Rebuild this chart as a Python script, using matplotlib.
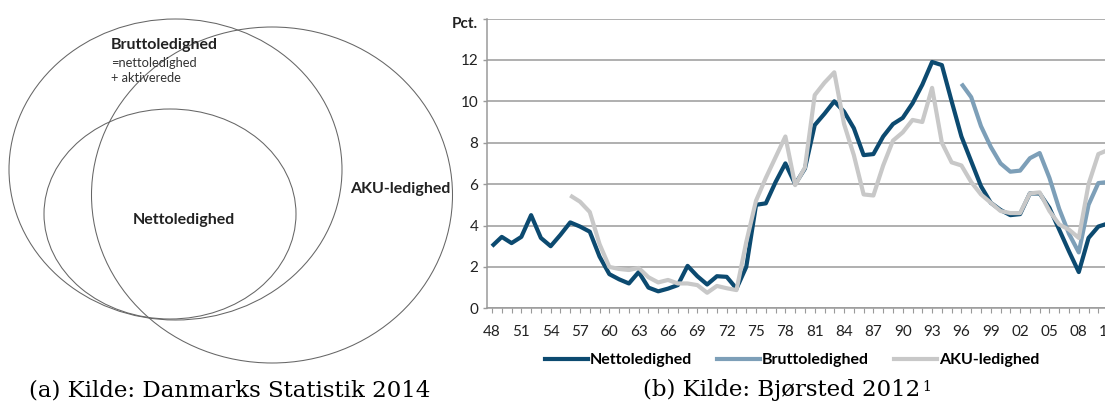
import numpy as np
import matplotlib
matplotlib.use('Agg')
import matplotlib.pyplot as plt
from matplotlib.patches import Ellipse
from matplotlib.lines import Line2D
from matplotlib.transforms import ScaledTranslation

# data (pct.)
years_netto = list(range(1948, 2012))
netto = [3.0, 3.45, 3.15, 3.45, 4.5, 3.4, 3.0, 3.55, 4.15, 3.95,
         3.7, 2.5, 1.65, 1.4, 1.2, 1.75, 1.0, 0.82, 0.95, 1.12,
         2.05, 1.55, 1.15, 1.55, 1.52, 0.95, 2.0, 5.0, 5.07, 6.1,
         7.0, 6.0, 6.75, 8.85, 9.4, 10.0, 9.5, 8.7, 7.4, 7.45,
         8.3, 8.9, 9.2, 9.9, 10.8, 11.9, 11.75, 10.0, 8.3, 7.1,
         5.9, 5.1, 4.75, 4.5, 4.55, 5.55, 5.55, 4.85, 3.8, 2.75,
         1.75, 3.4, 3.95, 4.1]

years_aku = list(range(1956, 2012))
aku = [5.45, 5.15, 4.65, 3.1, 2.0, 1.9, 1.85, 1.95, 1.5, 1.25,
       1.37, 1.2, 1.2, 1.12, 0.75, 1.08, 0.97, 0.88, 3.2, 5.2,
       6.3, 7.3, 8.3, 5.95, 6.8, 10.3, 10.9, 11.4, 8.9, 7.4,
       5.5, 5.45, 6.9, 8.1, 8.5, 9.1, 9.0, 10.65, 8.0, 7.05,
       6.9, 6.1, 5.5, 5.1, 4.7, 4.6, 4.6, 5.55, 5.6, 4.7,
       4.05, 3.8, 3.4, 6.0, 7.45, 7.65]

years_brutto = list(range(1996, 2012))
brutto = [10.85, 10.2, 8.8, 7.8, 7.0, 6.6, 6.65, 7.25, 7.5, 6.3,
          4.8, 3.6, 2.7, 5.0, 6.05, 6.1]

series_names = ['Nettoledighed', 'Bruttoledighed', 'AKU-ledighed']
series_colors = ['#0c4a70', '#7d9fb8', '#c8c8c8']
y_ticks = [0, 2, 4, 6, 8, 10, 12, 14]

SANS = ['Lato', 'DejaVu Sans']
SERIF = ['DejaVu Serif']
GRID = '#9a9a9a'

W, H = 1105, 408
fig = plt.figure(figsize=(W / 100, H / 100), dpi=100)

# --- (a) venn diagram, drawn in pixel coordinates ---
ax0 = fig.add_axes([0, 0, 1, 1])
ax0.set_xlim(0, W)
ax0.set_ylim(H, 0)
ax0.axis('off')
ell_kw = dict(fill=False, edgecolor='#666666', lw=0.75)
ax0.add_patch(Ellipse((175.5, 169.5), 333, 301, **ell_kw))   # brutto
ax0.add_patch(Ellipse((170, 214), 252, 210, **ell_kw))       # netto
ax0.add_patch(Ellipse((272, 195), 361, 336, **ell_kw))       # aku
ax0.text(111, 45, 'Bruttoledighed', family=SANS, weight='bold', size=11.5,
         ha='left', va='center', color='#222222')
ax0.text(111, 63, '=nettoledighed', family=SANS, size=9.3,
         ha='left', va='center', color='#333333')
ax0.text(111, 78, '+ aktiverede', family=SANS, size=9.3,
         ha='left', va='center', color='#333333')
ax0.text(184, 220, 'Nettoledighed', family=SANS, weight='bold', size=11.5,
         ha='center', va='center', color='#222222')
ax0.text(400, 189, 'AKU-ledighed', family=SANS, weight='bold', size=11.5,
         ha='center', va='center', color='#222222')

# --- (b) line chart, right side runs past the figure edge (cropped) ---
x0, x1 = 1947.46, 2012.0
px_per_year = 9.78
left = 486.7 / W
bottom = (H - 308.3) / H
height = (308.3 - 18.5) / H
width = (x1 - x0) * px_per_year / W
ax = fig.add_axes([left, bottom, width, height])

for yrs, vals, name, col in zip([years_netto, years_brutto, years_aku],
                                [netto, brutto, aku],
                                series_names, series_colors):
    ax.plot(yrs, vals, color=col, lw=3, solid_joinstyle='round',
            solid_capstyle='butt', label=name)

ax.set_xlim(x0, x1)
ax.set_ylim(0, 14)
ax.set_yticks(y_ticks)
ax.set_yticklabels([str(v) for v in y_ticks[:-1]] + ['Pct.'])
ax.set_xticks(list(range(1948, 2012, 3)))
ax.set_xticklabels(['%02d' % (y % 100) for y in range(1948, 2012, 3)])
ax.set_xticks(years_netto, minor=True)
ax.grid(axis='y', color=GRID, lw=1.1)
ax.set_axisbelow(True)
for s in ['top', 'right']:
    ax.spines[s].set_visible(False)
for s in ['left', 'bottom']:
    ax.spines[s].set_color(GRID)
    ax.spines[s].set_linewidth(1.1)
ax.tick_params(axis='y', length=3, width=1.0, color=GRID, pad=3,
               labelsize=11, labelcolor='#222222')
ax.tick_params(axis='x', which='both', length=3.5, width=0.8, color=GRID,
               pad=8.5, labelsize=11, labelcolor='#222222')
for lab in ax.get_xticklabels() + ax.get_yticklabels():
    lab.set_family(SANS)
pct = ax.get_yticklabels()[-1]
pct.set_fontweight('bold')
pct.set_transform(pct.get_transform() + ScaledTranslation(0, -3.5 / 100, fig.dpi_scale_trans))

handles = [Line2D([], [], color=c, lw=3) for c in series_colors]
fig.legend(handles, series_names, loc='center',
           bbox_to_anchor=(792 / W, 1 - 360 / H), ncol=3, frameon=False,
           handlelength=2.7, handletextpad=0.1, columnspacing=1.6,
           prop=dict(family=SANS, weight='bold', size=11.5))

# captions
fig.text(230 / W, 1 - 390 / H, '(a) Kilde: Danmarks Statistik 2014',
         family=SERIF, size=16.5, ha='center', va='center')
cap_b = fig.text(782 / W, 1 - 390 / H, '(b) Kilde: Bjørsted 2012',
                 family=SERIF, size=16.5, ha='center', va='center')
plt.annotate('1', xy=(1, 1), xycoords=cap_b, xytext=(1.5, -1),
             textcoords='offset points', family=SERIF, size=10,
             ha='left', va='top')

fig.savefig('out.png', dpi=100)
